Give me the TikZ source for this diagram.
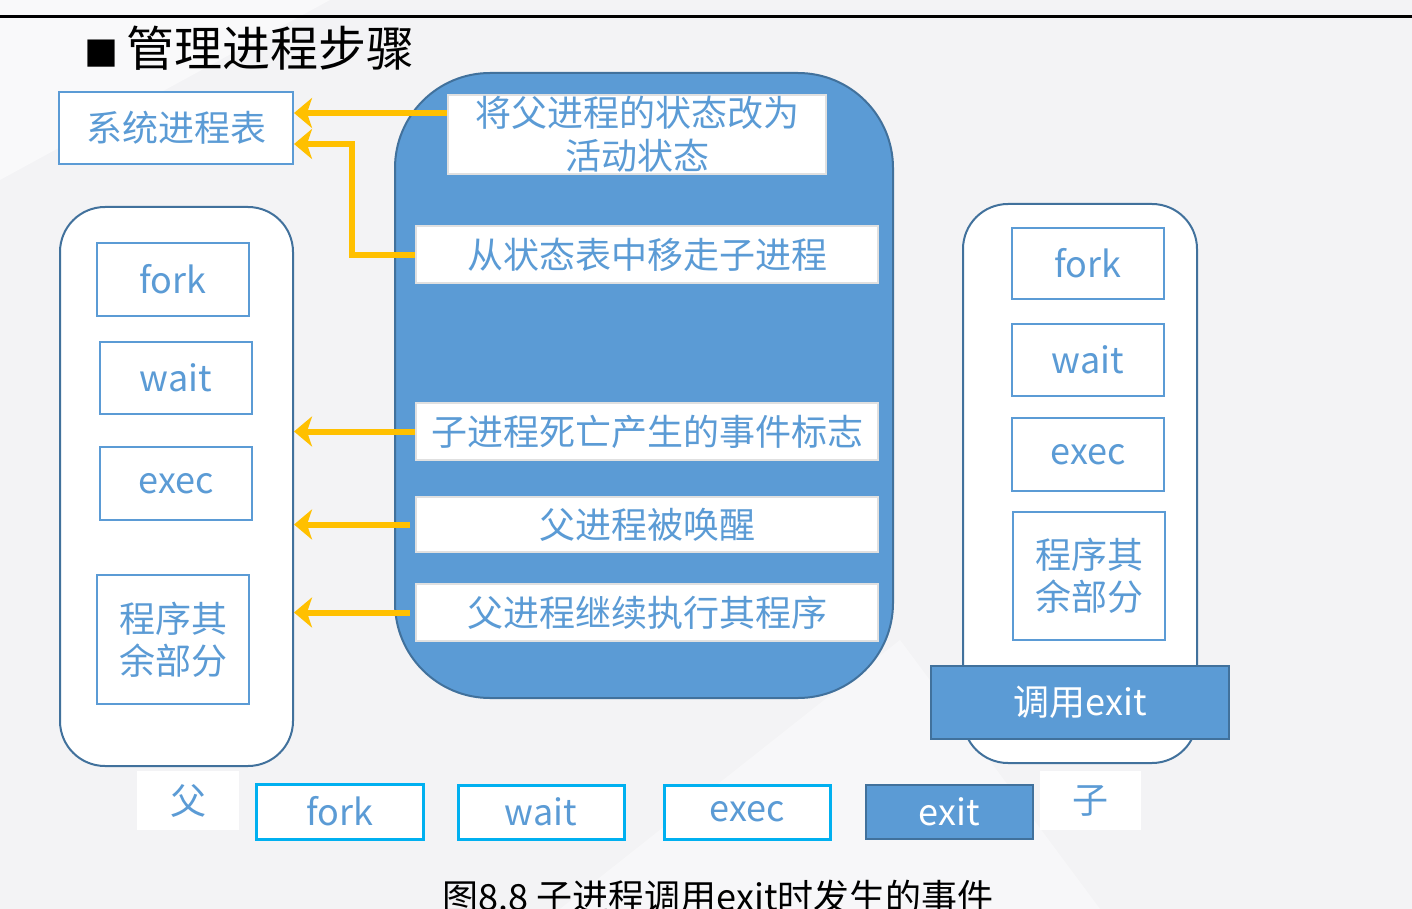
\documentclass[tikz,border=0pt]{standalone}
\usepackage{fontspec}
\newfontfamily\cjk{Noto Sans CJK SC}
\usetikzlibrary{arrows.meta}
\definecolor{stepblue}{HTML}{5B9BD5}
\definecolor{edgeblue}{HTML}{41719C}
\definecolor{arrowgold}{HTML}{FFC000}
\definecolor{cyanline}{HTML}{00B0F0}
\definecolor{paper}{HTML}{F3F3F5}

\begin{document}
\begin{tikzpicture}[x=1pt,y=-1pt,
 every node/.style={font=\cjk\fontsize{36}{42}\selectfont, inner sep=0pt},
 box/.style={draw=stepblue, line width=2pt, fill=white, text=stepblue, align=center},
 proc/.style={draw=edgeblue, line width=2pt, fill=white, rounded corners=45pt},
 stepbox/.style={draw=black!12, line width=2pt, fill=white, text=stepblue, align=center},
 callbox/.style={draw=edgeblue, line width=2.5pt, fill=stepblue, text=white},
 seqbox/.style={draw=cyanline, line width=3pt, fill=white, text=stepblue},
 tag/.style={fill=white, text=stepblue},
 goldarrow/.style={draw=arrowgold, line width=6pt, -{Stealth[length=18pt,width=30pt,inset=5pt]}}]
\useasboundingbox (0,0) rectangle (1412,909);
\fill[paper] (0,0) rectangle (1412,909);
\fill[white,opacity=.5] (0,180) -- (330,0) -- (0,0) -- cycle;
\fill[white,opacity=.4] (560,909) -- (900,640) -- (1100,909) -- cycle;
\draw[line width=3pt] (0,17) -- (1412,17);

% title
\node[anchor=west, font=\cjk\fontsize{48}{52}\selectfont] (title) at (84,48) {{\fontsize{34}{34}\selectfont ■}\hspace{8pt}管理进程步骤};

% system process table
\node[box, minimum width=234pt, minimum height=72pt] (tbl) at (176,128) {系统进程表};
\coordinate (tblA) at ([yshift=15pt]tbl.east);
\coordinate (tblB) at ([yshift=-16pt]tbl.east);

% exit steps
\node[fill=stepblue, draw=edgeblue, line width=2pt, rounded corners=95pt,
 minimum width=498pt, minimum height=625pt] (steps) at (644,385.5) {};
\node[stepbox, minimum width=378pt, minimum height=79pt, font=\cjk\fontsize{36}{43}\selectfont] (stepA) at (637,134.5) {将父进程的状态改为\\活动状态};
\node[stepbox, minimum width=462pt, minimum height=57pt] (stepB) at (647,254.5) {从状态表中移走子进程};
\node[stepbox, minimum width=462pt, minimum height=57pt] (stepC) at (647,431.5) {子进程死亡产生的事件标志};
\node[stepbox, minimum width=462pt, minimum height=55pt] (stepD) at (647,524.5) {父进程被唤醒};
\node[stepbox, minimum width=462pt, minimum height=57pt] (stepE) at (647,612.5) {父进程继续执行其程序};

% parent
\node[proc, minimum width=233pt, minimum height=559pt] (parent) at (176.5,486.5) {};
\node[box, minimum width=152pt, minimum height=73pt] (pfork) at (173,279.5) {fork};
\node[box, minimum width=152pt, minimum height=72pt] (pwait) at (176,378) {wait};
\node[box, minimum width=152pt, minimum height=73pt] (pexec) at (176,483.5) {exec};
\node[box, minimum width=152pt, minimum height=129pt] (prest) at (173,639.5) {程序其\\余部分};

% child
\node[proc, minimum width=234pt, minimum height=559pt] (child) at (1080,483.5) {};
\node[box, minimum width=152pt, minimum height=71pt] (cfork) at (1088,263.5) {fork};
\node[box, minimum width=152pt, minimum height=72pt] (cwait) at (1088,360) {wait};
\node[box, minimum width=152pt, minimum height=73pt] (cexec) at (1088,454.5) {exec};
\node[box, minimum width=152pt, minimum height=128pt] (crest) at (1089,576) {程序其\\余部分};
\node[callbox, minimum width=298pt, minimum height=73pt] (callexit) at (1080,702.5) {调用exit};

% arrows
\draw[goldarrow] (tblA -| stepA.west) -- (tblA);
\draw[goldarrow] (stepB.west) -- ++(-63,0) |- (tblB);
\draw[goldarrow] (stepC.west) -- (stepC.west -| parent.east);
\draw[goldarrow] ([xshift=-5pt]stepD.west) -- (stepD.west -| parent.east);
\draw[goldarrow] ([xshift=-5pt]stepE.west) -- (stepE.west -| parent.east);

% call sequence
\node[tag, minimum width=102pt, minimum height=59pt] (fa) at (188,800.5) {父};
\node[seqbox, minimum width=167pt, minimum height=55pt] (sfork) at (339.5,811.5) {fork};
\node[seqbox, minimum width=166pt, minimum height=54pt] (swait) at (541,812) {wait};
\node[seqbox, minimum width=166pt, minimum height=54pt] (sexec) at (747,812) {exec};
\node[callbox, minimum width=167pt, minimum height=54pt] (sexit) at (949.5,812) {exit};
\node[tag, minimum width=101pt, minimum height=59pt] (zi) at (1090.5,800.5) {子};

\node[font=\cjk\fontsize{36}{40}\selectfont] (caption) at (718,897) {图8.8 子进程调用exit时发生的事件};
\end{tikzpicture}
\end{document}
